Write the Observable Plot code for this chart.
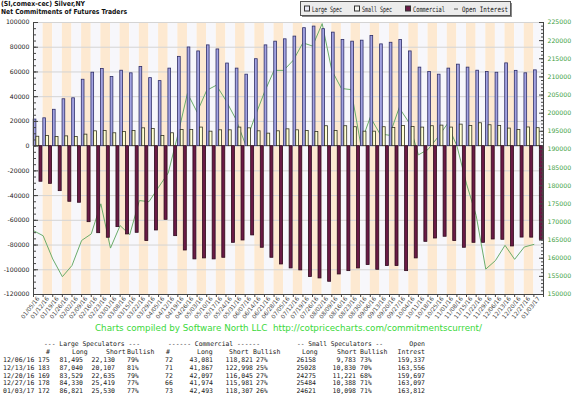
<!DOCTYPE html>
<html><head><meta charset="utf-8">
<script src="https://cdn.jsdelivr.net/npm/d3@7"></script>
<script src="https://cdn.jsdelivr.net/npm/@observablehq/plot@0.6"></script>
<style>
body{margin:0;background:#fff;}
#wrap{position:relative;width:576px;height:397px;overflow:hidden;background:#fff;}
#chart{position:absolute;left:0;top:0;}
#over{position:absolute;left:0;top:0;}
</style></head><body>
<div id="wrap"><div id="chart"></div><svg id="over" width="576" height="397"></svg></div>
<script>
const dates = ["01/05/16","01/12/16","01/19/16","01/26/16","02/02/16","02/09/16","02/16/16","02/23/16","03/01/16","03/08/16","03/15/16","03/22/16","03/29/16","04/05/16","04/12/16","04/19/16","04/26/16","05/03/16","05/10/16","05/17/16","05/24/16","05/31/16","06/07/16","06/14/16","06/21/16","06/28/16","07/05/16","07/12/16","07/19/16","07/26/16","08/02/16","08/09/16","08/16/16","08/23/16","08/30/16","09/06/16","09/13/16","09/20/16","09/27/16","10/04/16","10/11/16","10/18/16","10/25/16","11/01/16","11/08/16","11/15/16","11/22/16","11/29/16","12/06/16","12/13/16","12/20/16","12/27/16","01/03/17"];
const largeSpec = [21500,22500,29400,37900,38700,53700,59400,62400,55900,61000,58900,64000,55000,52600,62700,72200,79800,76600,81500,78200,66800,62700,57800,70300,81500,84500,86400,88600,95400,96700,94600,91800,85800,84500,85300,89100,82300,83600,85800,76600,63500,59900,57800,62700,65900,63500,61000,59900,59365,66933,60894,58911,61291];
const smallSpec = [7600,8200,7400,7900,7400,9300,12000,12300,10400,11400,12300,14400,13900,8200,10400,13100,13100,15000,11700,12800,12800,15000,14400,12000,10100,12000,13600,12800,12300,11400,16100,12300,16100,15300,11700,11700,15300,14700,16300,15500,15000,16100,16600,15000,17400,16300,18500,16900,16375,14198,13054,15096,14523];
const commercial = [-28800,-30500,-36400,-45000,-45800,-61500,-70400,-74100,-65500,-71400,-70100,-76800,-68200,-59600,-72800,-84400,-91600,-90800,-91600,-90300,-78200,-76300,-72200,-82200,-90300,-95700,-98900,-100500,-105900,-107000,-109700,-103800,-101100,-98900,-96200,-100000,-97000,-97000,-101100,-90800,-77400,-74700,-73300,-76800,-82200,-78200,-78200,-75500,-75740,-81131,-73948,-74007,-75814];
const openInterest = [167600,166200,159800,154900,158000,164900,166700,175000,162800,169000,166500,175900,175600,179600,183500,194000,205500,200300,206300,207700,203500,198500,191600,198900,205800,211800,211800,214600,219400,218500,224700,211800,206800,206500,191500,198900,194300,193900,201500,197500,188500,190000,193300,197000,191000,180500,171800,157000,159337,163556,159697,163097,163812];
const leftTicks = [100000,80000,60000,40000,20000,0,-20000,-40000,-60000,-80000,-100000,-120000];
const rightTicks = [225000,220000,215000,210000,205000,200000,195000,190000,185000,180000,175000,170000,165000,160000,155000,150000];

// bottom table
const tableDates = ["12/06/16","12/13/16","12/20/16","12/27/16","01/03/17"];
const lsCount = [175,183,169,178,172];
const lsLong = [81495,87040,83529,84330,86821];
const lsShort = [22130,20107,22635,25419,25530];
const lsBull = [79,81,79,77,77];
const cmCount = [72,71,72,66,73];
const cmLong = [43081,41867,42097,41974,42493];
const cmShort = [118821,122998,116045,115981,118307];
const cmBull = [27,25,27,27,26];
const ssLong = [26158,25028,24275,25484,24621];
const ssShort = [9783,10830,11221,10388,10098];
const ssBull = [73,70,68,71,71];
const oiTable = [159337,163556,159697,163097,163812];

const rows = dates.map((date, i) => ({i, date, large: largeSpec[i], small: smallSpec[i], comm: commercial[i], oi: openInterest[i]}));
const oiToY = v => -120000 + (v - 150000) * 220000 / 75000;
const yToOi = v => 150000 + (v + 120000) * 75000 / 220000;
const n = dates.length;
const leftMinor = d3.range(-120000, 100001, 5000);
const rightMinor = d3.range(150000, 225001, 1000).map(oiToY);

const chart = Plot.plot({
  width: 576, height: 330,
  marginLeft: 33, marginRight: 33, marginTop: 22, marginBottom: 36,
  style: {fontFamily: "DejaVu Sans", fontSize: "6px", background: "transparent", overflow: "visible"},
  x: {type: "linear", domain: [0, n], axis: null, label: null},
  y: {domain: [-120000, 100000], axis: null, label: null},
  color: {type: "identity"},
  marks: [
    Plot.rect(rows, {x1: d => d.i, x2: d => d.i + 1, fill: d => d.i % 2 ? "#fde9d1" : "#f7f7fb"}),
    Plot.gridY(leftTicks, {stroke: "#d4d4d4", strokeOpacity: 1}),
    Plot.line(rows, {x: d => d.i, y: d => oiToY(d.oi), stroke: "#6aac6a", strokeWidth: 1}),
    Plot.rectY(rows, {x1: d => d.i + 0.02, x2: d => d.i + 0.30, y: d => d.large, fill: "#a3a3e2", stroke: "#2e2e68", strokeWidth: 0.8}),
    Plot.rectY(rows, {x1: d => d.i + 0.30, x2: d => d.i + 0.60, y: d => d.small, fill: "#ffffd2", stroke: "#333322", strokeWidth: 0.8}),
    Plot.rectY(rows, {x1: d => d.i + 0.62, x2: d => d.i + 0.93, y: d => d.comm, fill: "#6a1a45", stroke: "#2e0a1c", strokeWidth: 0.8}),
    Plot.ruleX([0], {stroke: "#444"}),
    Plot.ruleX([n], {stroke: "#444"}),
    Plot.ruleY([-120000], {stroke: "#444"}),
    // left axis
    Plot.axisY(leftTicks, {anchor: "left", label: null, tickSize: 0, tickPadding: 4, tickFormat: d => String(d), fontSize: 6.2, fill: "#222"}),
    Plot.axisY(leftTicks, {anchor: "right", frameAnchor: "left", label: null, tickSize: 4, tickFormat: () => "", stroke: "#444"}),
    Plot.axisY(leftMinor, {anchor: "right", frameAnchor: "left", label: null, tickSize: 2, tickFormat: () => "", stroke: "#444"}),
    // right axis
    Plot.axisY(rightTicks.map(oiToY), {anchor: "right", label: null, tickSize: 0, tickPadding: 4, tickFormat: d => String(Math.round(yToOi(d))), fontSize: 6.2, fill: "#3d9e3d"}),
    Plot.axisY(rightTicks.map(oiToY), {anchor: "left", frameAnchor: "right", label: null, tickSize: 4, tickFormat: () => "", stroke: "#444"}),
    Plot.axisY(rightMinor, {anchor: "left", frameAnchor: "right", label: null, tickSize: 2, tickFormat: () => "", stroke: "#444"}),
    // bottom axis
    Plot.axisX(d3.range(0, n + 1), {anchor: "bottom", label: null, tickSize: 3, tickFormat: () => "", stroke: "#444"}),
    Plot.axisX(d3.range(n).map(i => i + 0.5), {anchor: "bottom", label: null, tickSize: 0, tickPadding: 3, tickRotate: -52, tickFormat: d => dates[Math.floor(d)], fontSize: 5.8, fill: "#444"})
  ]
});
document.getElementById("chart").appendChild(chart);

const svg = d3.select("#over");
function txt(x, y, s, o = {}) {
  const t = svg.append("text").attr("x", x).attr("y", y).text(s)
    .attr("font-family", o.family || "DejaVu Sans")
    .attr("font-size", o.size || 7)
    .attr("fill", o.fill || "#111")
    .attr("text-anchor", o.anchor || "start")
    .style("white-space", "pre");
  if (o.weight) t.attr("font-weight", o.weight);
  if (o.len) t.attr("textLength", o.len).attr("lengthAdjust", "spacingAndGlyphs");
  return t;
}
// title
txt(1, 6, "(SI,comex-cec) Silver,NY", {size: 7, weight: "bold", len: 84});
txt(1, 13.5, "Net Commitments of Futures Traders", {size: 7, weight: "bold", len: 126});
// legend
svg.append("rect").attr("x", 302).attr("y", 3).attr("width", 210).attr("height", 14).attr("fill", "#888");
svg.append("rect").attr("x", 300.5).attr("y", 1.5).attr("width", 210).attr("height", 14).attr("fill", "#ececec").attr("stroke", "#555");
const legY = 11.5;
svg.append("rect").attr("x", 304.5).attr("y", 6).attr("width", 5).attr("height", 5).attr("fill", "#e8e8f4").attr("stroke", "#333");
txt(312, legY, "Large Spec", {family: "DejaVu Sans Mono", size: 7.5, len: 30});
svg.append("rect").attr("x", 354.5).attr("y", 6).attr("width", 5).attr("height", 5).attr("fill", "#f4f4f0").attr("stroke", "#333");
txt(362, legY, "Small Spec", {family: "DejaVu Sans Mono", size: 7.5, len: 30});
svg.append("rect").attr("x", 405.5).attr("y", 6).attr("width", 5).attr("height", 5).attr("fill", "#6a1a45").attr("stroke", "#333");
txt(413, legY, "Commercial", {family: "DejaVu Sans Mono", size: 7.5, len: 32});
svg.append("line").attr("x1", 454).attr("x2", 458).attr("y1", 9).attr("y2", 9).attr("stroke", "#555");
txt(462, legY, "Open Interest", {family: "DejaVu Sans Mono", size: 7.5, len: 46});
// footer
txt(95, 331, "Charts compiled by Software North LLC  http://cotpricecharts.com/commitmentscurrent/", {size: 9, fill: "#3ad83a", len: 387});
// table
const mono = {family: "DejaVu Sans Mono", size: 6.5, fill: "#222"};
const fmt = d3.format(",");
const h1 = 345.5, h2 = 353.8, r0 = 362.2, rs = 7.65;
txt(44, h1, "--- Large Speculators ---", {...mono, len: 96});
txt(168, h1, "------ Commercial ------", {...mono, len: 92});
txt(297, h1, "-- Small Speculators --", {...mono, len: 86});
txt(425, h1, "Open", {...mono, anchor: "end"});
txt(46, h2, "#", mono);
txt(72, h2, "Long", mono);
txt(106, h2, "Short", mono);
txt(127, h2, "Bullish", mono);
txt(166, h2, "#", mono);
txt(197, h2, "Long", mono);
txt(229, h2, "Short", mono);
txt(253, h2, "Bullish", mono);
txt(302, h2, "Long", mono);
txt(337, h2, "Short", mono);
txt(360, h2, "Bullish", mono);
txt(425, h2, "Intrest", {...mono, anchor: "end"});
tableDates.forEach((d, k) => {
  const y = r0 + k * rs;
  txt(3, y, d, mono);
  txt(38, y, String(lsCount[k]), mono);
  txt(83, y, fmt(lsLong[k]), {...mono, anchor: "end"});
  txt(115, y, fmt(lsShort[k]), {...mono, anchor: "end"});
  txt(127, y, lsBull[k] + "%", mono);
  txt(165, y, String(cmCount[k]), mono);
  txt(213, y, fmt(cmLong[k]), {...mono, anchor: "end"});
  txt(253, y, fmt(cmShort[k]), {...mono, anchor: "end"});
  txt(256, y, cmBull[k] + "%", mono);
  txt(316, y, String(ssLong[k]), {...mono, anchor: "end"});
  txt(356, y, fmt(ssShort[k]), {...mono, anchor: "end"});
  txt(360, y, ssBull[k] + "%", mono);
  txt(425, y, fmt(oiTable[k]), {...mono, anchor: "end"});
});
</script>
</body></html>
